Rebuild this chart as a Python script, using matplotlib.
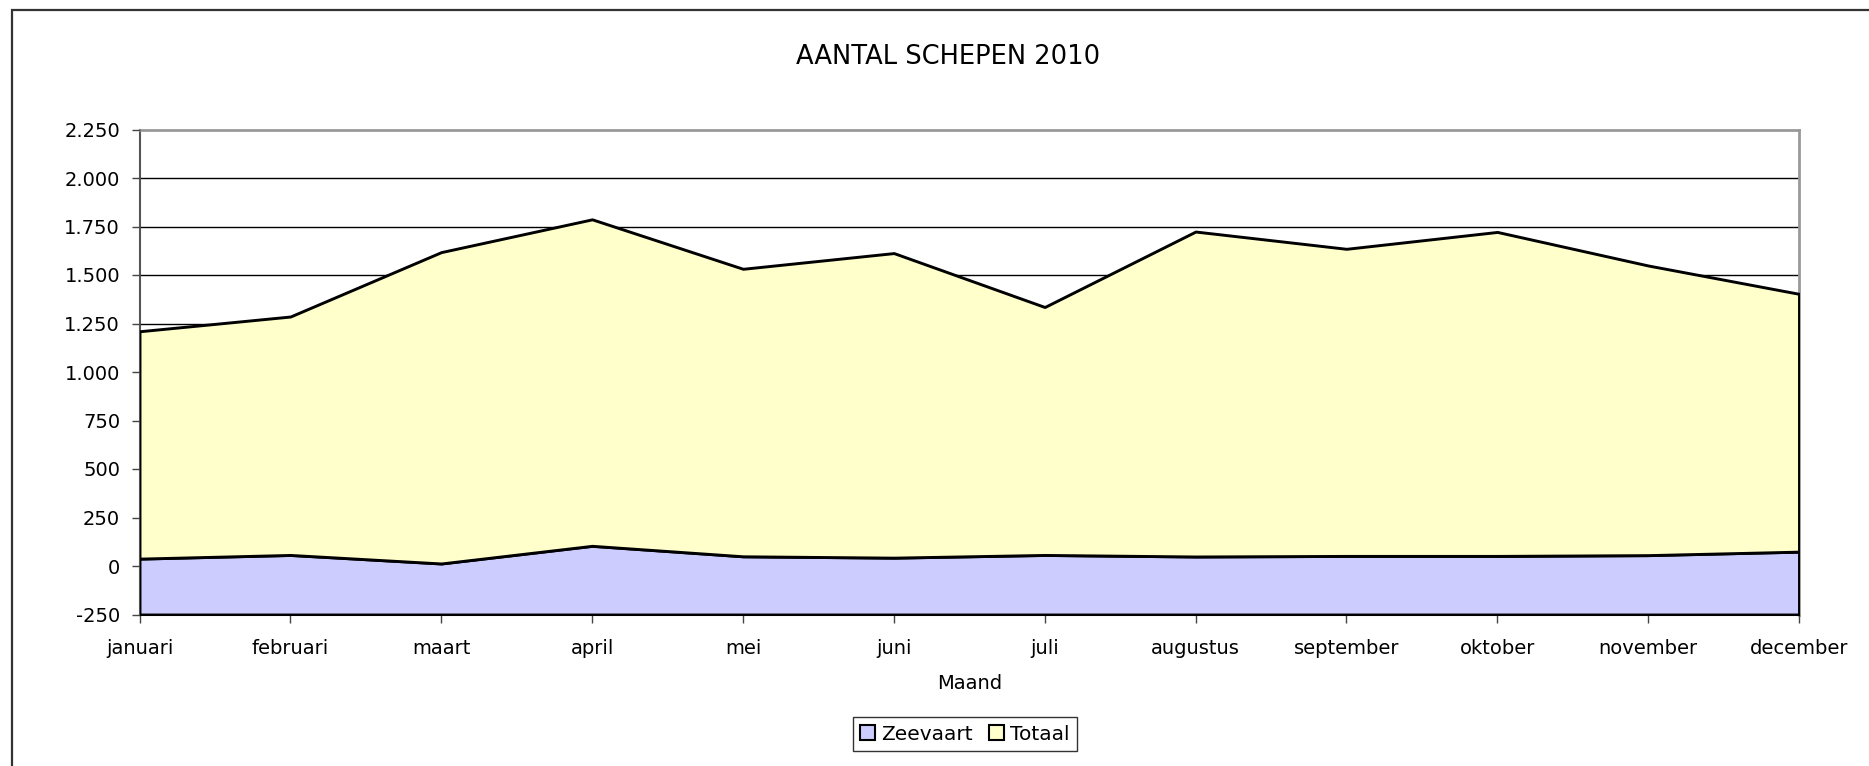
import matplotlib
matplotlib.use("Agg")
import matplotlib.pyplot as plt
from matplotlib.patches import Patch, Rectangle
from matplotlib.ticker import FuncFormatter

# data
maanden = ["januari", "februari", "maart", "april", "mei", "juni", "juli",
           "augustus", "september", "oktober", "november", "december"]
zeevaart = [38, 57, 13, 104, 50, 43, 57, 49, 52, 52, 56, 74]
totaal = [1210, 1286, 1618, 1787, 1532, 1613, 1335, 1724, 1635, 1722, 1549, 1403]
y_ticks = [-250, 0, 250, 500, 750, 1000, 1250, 1500, 1750, 2000, 2250]

W, H = 1869, 766
fig = plt.figure(figsize=(W / 100, H / 100), dpi=100)
plt.rcParams['font.family'] = ['DejaVu Sans']

# outer chart frame (only left and top edges visible)
fig.patches.append(Rectangle((12 / W, -0.1), 1.2, (H - 10) / H + 0.1,
                             transform=fig.transFigure, fill=False,
                             edgecolor='#333333', lw=1.6))

ax = fig.add_axes([139.5 / W, 1 - 614.5 / H, (1799 - 139.5) / W, (614.5 - 129.5) / H])
x = list(range(len(maanden)))
ymin = y_ticks[0]

# gridlines behind the areas
for t in y_ticks[1:-1]:
    ax.axhline(t, color='black', lw=1.0, zorder=1)

ax.fill_between(x, ymin, zeevaart, facecolor='#CCCCFF', edgecolor='black',
                lw=2.1, zorder=2)
ax.fill_between(x, zeevaart, totaal, facecolor='#FFFFCC', edgecolor='black',
                lw=2.1, zorder=3)

ax.set_xlim(0, len(maanden) - 1)
ax.set_ylim(y_ticks[0], y_ticks[-1])
ax.set_xticks(x)
ax.set_xticklabels(maanden)
ax.set_yticks(y_ticks)
ax.yaxis.set_major_formatter(FuncFormatter(lambda v, p: f"{int(v):,}".replace(",", ".")))
ax.tick_params(axis='both', labelsize=14, length=6, width=1, color='#444444')
ax.tick_params(axis='x', pad=12)
ax.tick_params(axis='y', pad=8)

for side in ['top', 'right']:
    ax.spines[side].set_color('#999999')
    ax.spines[side].set_linewidth(2)
for side in ['left', 'bottom']:
    ax.spines[side].set_color('#555555')
    ax.spines[side].set_linewidth(1.5)
for s in ax.spines.values():
    s.set_zorder(1.5)

ax.set_xlabel("Maand", fontsize=14, labelpad=11)

fig.text(948 / W, 1 - 57 / H, "AANTAL SCHEPEN 2010", fontsize=18.5,
         ha='center', va='center')

handles = [Patch(facecolor='#CCCCFF', edgecolor='black', lw=1.5),
           Patch(facecolor='#FFFFCC', edgecolor='black', lw=1.5)]
leg = fig.legend(handles, ["Zeevaart", "Totaal"], loc='center',
                 bbox_to_anchor=(965 / W, 1 - 734 / H), ncol=2, fontsize=14.5,
                 frameon=True, fancybox=False, handlelength=0.75,
                 handleheight=0.75, handletextpad=0.3, columnspacing=0.8,
                 borderpad=0.35, borderaxespad=0)
leg.get_frame().set_edgecolor('black')
leg.get_frame().set_linewidth(1.0)

fig.savefig("out.png", dpi=100)
